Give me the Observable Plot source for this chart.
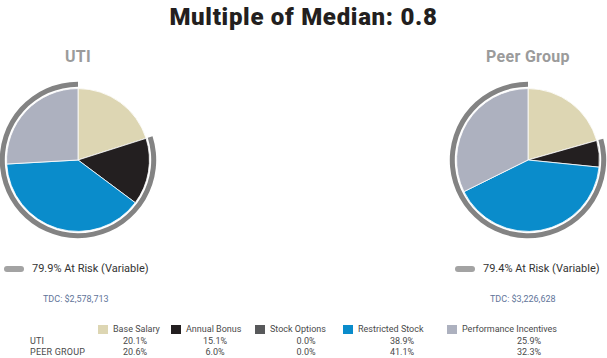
<!DOCTYPE html>
<html><head><meta charset="utf-8">
<script src="https://cdn.jsdelivr.net/npm/d3@7"></script>
<script src="https://cdn.jsdelivr.net/npm/@observablehq/plot@0.6"></script>
<style>
body{margin:0;background:#fff;font-family:Roboto,"Noto Sans",sans-serif;}
#root{position:relative;width:607px;height:358px;overflow:hidden;background:#fff;}
.t{position:absolute;white-space:nowrap;line-height:1;}
svg{position:absolute;overflow:visible;}
</style></head><body><div id="root"></div>
<script>
// ---- data ----
const title = "Multiple of Median: 0.8";
const categories = ["Base Salary", "Annual Bonus", "Stock Options", "Restricted Stock", "Performance Incentives"];
const colors = ["#ddd6b3", "#231f20", "#58595b", "#0a8ccb", "#adb1bf"];
const groups = ["UTI", "Peer Group"];
const rowLabels = ["UTI", "PEER GROUP"];
const utiValues = [20.1, 15.1, 0.0, 38.9, 25.9];
const peerValues = [20.6, 6.0, 0.0, 41.1, 32.3];
const atRisk = [79.9, 79.4];
const tdc = ["$2,578,713", "$3,226,628"];

// ---- layout ----
const root = document.getElementById("root");
const pieCenters = [[78, 159.5], [528, 159.5]];
const pieBox = 160;
const ASC = 0.842; // Roboto baseline offset at line-height 1

function text(str, {x, baseline, size, weight = 400, color = "#333", anchor = "start", spacing = 0}) {
  const d = document.createElement("div");
  d.className = "t";
  d.textContent = str;
  d.style.fontSize = size + "px";
  d.style.fontWeight = weight;
  d.style.color = color;
  d.style.letterSpacing = spacing + "px";
  d.style.top = (baseline - ASC * size) + "px";
  root.appendChild(d);
  const w = d.getBoundingClientRect().width;
  if (anchor === "middle") d.style.left = (x - w / 2) + "px";
  else if (anchor === "end") d.style.left = (x - w) + "px";
  else d.style.left = x + "px";
  return d;
}

text(title, {x: 303.5, baseline: 25, size: 24, weight: 900, color: "#231f20", anchor: "middle", spacing: 0.7});

function pieMark(values, risk) {
  return (index, scales, vals, dims) => {
    const cx = scales.x(0), cy = scales.y(0);
    const r = scales.x(1) - scales.x(0);
    const g = d3.create("svg:g").attr("transform", `translate(${cx},${cy})`);
    const start = (1 - risk / 100) * 2 * Math.PI;
    g.append("path")
      .attr("d", d3.arc()({innerRadius: r * 1.025, outerRadius: r * 1.095, startAngle: start, endAngle: 2 * Math.PI}))
      .attr("fill", "#838383");
    const arcs = d3.pie().sort(null).value(d => d)(values).filter(a => a.endAngle > a.startAngle);
    const arc = d3.arc().innerRadius(0).outerRadius(r);
    g.selectAll("path.s").data(arcs).join("path")
      .attr("class", "s")
      .attr("d", arc)
      .attr("fill", d => colors[d.index])
      .attr("stroke", "#fff")
      .attr("stroke-width", 0.8)
      .attr("stroke-linejoin", "round");
    return g.node();
  };
}

[utiValues, peerValues].forEach((vals, i) => {
  const [cx, cy] = pieCenters[i];
  const svg = Plot.plot({
    width: pieBox, height: pieBox, margin: 0,
    x: {domain: [-1.12, 1.12], axis: null},
    y: {domain: [-1.12, 1.12], axis: null},
    marks: [
      Plot.dot([0], {x: () => 0, y: () => 0, r: 0}),
      pieMark(vals, atRisk[i])
    ]
  });
  svg.style.left = (cx - pieBox / 2) + "px";
  svg.style.top = (cy - pieBox / 2) + "px";
  root.appendChild(svg);

  text(groups[i], {x: cx, baseline: 62.5, size: 16, weight: 700, color: "#9b9b9b", anchor: "middle", spacing: 0.3});
});

// at-risk legends
const riskX = [4, 455];
const tdcX = [43, 490];
atRisk.forEach((v, i) => {
  const pill = document.createElement("div");
  pill.style.cssText = `position:absolute;left:${riskX[i]}px;top:265.5px;width:20px;height:6px;border-radius:3px;background:#a3a3a3;`;
  root.appendChild(pill);
  text(`${v.toFixed(1)}% At Risk (Variable)`, {x: riskX[i] + 28, baseline: 272, size: 11, color: "#333"});
  text(`TDC: ${tdc[i]}`, {x: tdcX[i], baseline: 302.3, size: 9, color: "#62749a"});
});

// table legend
const swatchX = [98, 171, 255, 343, 447];
const colX = [135, 215, 306, 402, 529];
categories.forEach((c, j) => {
  const sw = document.createElement("div");
  sw.style.cssText = `position:absolute;left:${swatchX[j]}px;top:324.5px;width:10px;height:9px;background:${colors[j]};`;
  root.appendChild(sw);
  text(c, {x: swatchX[j] + 15, baseline: 332.5, size: 9, color: "#4a4a4a"});
});
[utiValues, peerValues].forEach((vals, i) => {
  const bl = i === 0 ? 344.5 : 356;
  text(rowLabels[i], {x: 30, baseline: bl, size: 9, color: "#4a4a4a", spacing: 0.2});
  vals.forEach((v, j) => text(v.toFixed(1) + "%", {x: colX[j], baseline: bl, size: 9, color: "#4a4a4a", anchor: "middle"}));
});
</script></body></html>
